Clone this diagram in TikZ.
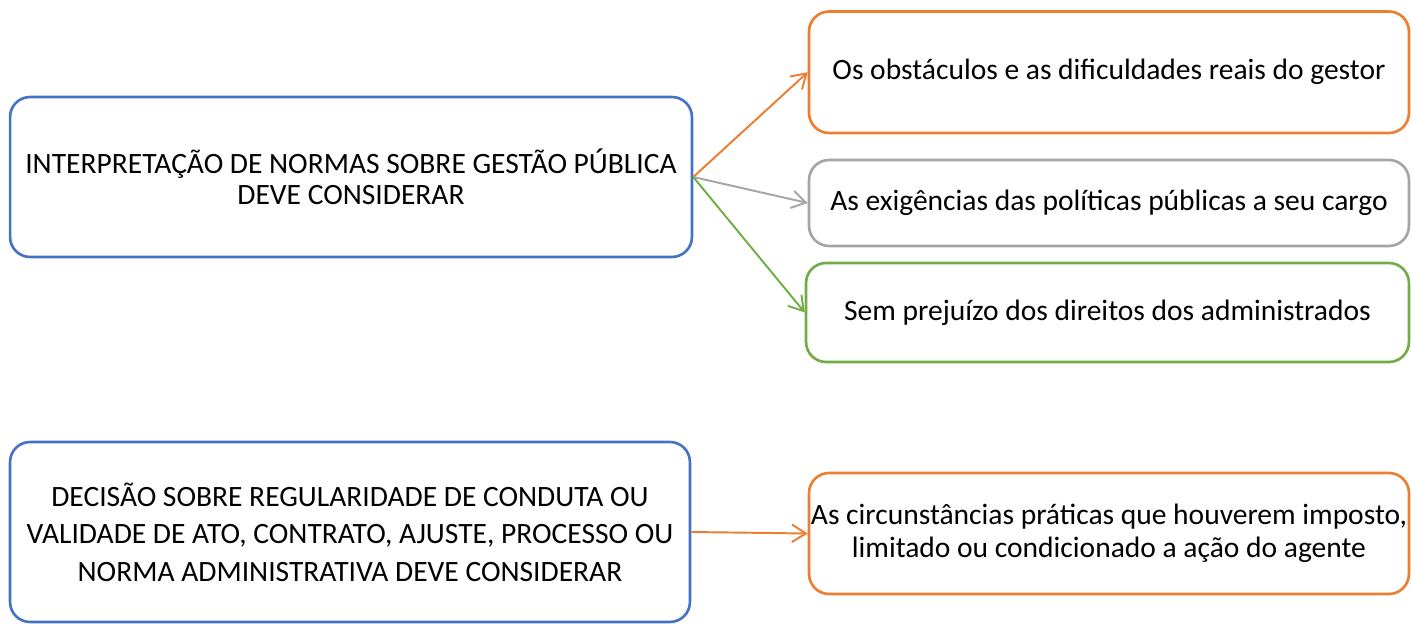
\documentclass[tikz,border=0pt]{standalone}
\usepackage{fontspec}
\setmainfont{Carlito}
\usetikzlibrary{arrows.meta,positioning}

\definecolor{boxblue}{HTML}{4472C4}
\definecolor{boxorange}{HTML}{ED7D31}
\definecolor{boxgray}{HTML}{A5A5A5}
\definecolor{boxgreen}{HTML}{70AD47}

\begin{document}
\begin{tikzpicture}[x=0.02cm,y=-0.02cm,
  box/.style={draw,rectangle,rounded corners=0.4cm,line width=1.5pt,align=center,
    font=\fontsize{16.8}{17.8}\selectfont,inner sep=0pt},
  topic/.style={box,draw=boxblue,minimum width=13.64cm},
  item/.style={box,minimum width=12cm},
  link/.style={line width=1.1pt,-{Straight Barb[length=8pt,width=10pt]}}]
  \useasboundingbox (0,0) rectangle (1411,624);

  \node[topic,minimum height=3.2cm] (interpretacao) at (351,177) {INTERPRETAÇÃO DE NORMAS SOBRE GESTÃO PÚBLICA\\DEVE CONSIDERAR};
    \node[item,draw=boxorange,minimum height=2.43cm] (obstaculos) at (1109,72.25) {Os obstáculos e as dificuldades reais do gestor};
    \node[item,draw=boxgray,minimum height=1.72cm] (exigencias) at (1109,203) {As exigências das políticas públicas a seu cargo};
    \node[item,draw=boxgreen,minimum height=1.98cm,minimum width=12.06cm] (direitos) at (1107.5,312.5) {Sem prejuízo dos direitos dos administrados};

  \draw[link,boxorange] (interpretacao.east) -- (obstaculos.west);
  \draw[link,boxgray] (interpretacao.east) -- (exigencias.west);
  \draw[link,boxgreen] (interpretacao.east) -- (direitos.west);

  \node[topic,minimum height=3.6cm,minimum width=13.6cm,font=\fontsize{16.8}{21.3}\selectfont] (decisao) at (350,532) {DECISÃO SOBRE REGULARIDADE DE CONDUTA OU\\VALIDADE DE ATO, CONTRATO, AJUSTE, PROCESSO OU\\NORMA ADMINISTRATIVA DEVE CONSIDERAR};
    \node[item,draw=boxorange,minimum height=2.42cm,font=\fontsize{16.8}{18.7}\selectfont] (circunstancias) at (1109,533.5) {As circunstâncias práticas que houverem imposto,\\limitado ou condicionado a ação do agente};

  \draw[link,boxorange] (decisao.east) -- (circunstancias.west);
\end{tikzpicture}
\end{document}
